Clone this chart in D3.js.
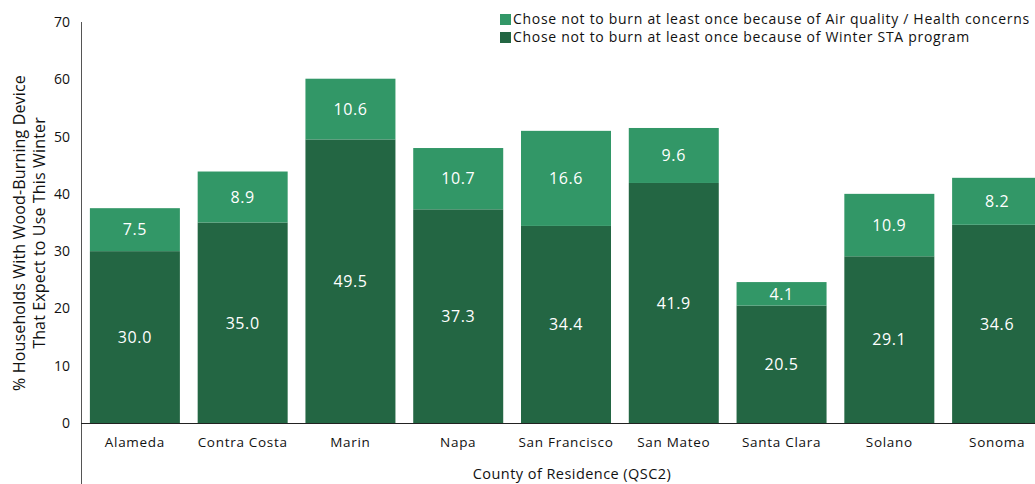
<!DOCTYPE html>
<html>
<head>
<meta charset="utf-8">
<script src="https://cdn.jsdelivr.net/npm/d3@7"></script>
<style>
  html, body { margin: 0; padding: 0; background: #fff; }
  svg { display: block; font-family: "Open Sans", "Noto Sans", sans-serif; }
</style>
</head>
<body>
<svg id="chart" width="1035" height="484"></svg>
<script>
// Counties on the x axis
const counties = ["Alameda", "Contra Costa", "Marin", "Napa", "San Francisco",
                  "San Mateo", "Santa Clara", "Solano", "Sonoma"];
// Bottom segment: chose not to burn because of Winter STA program
const staValues = [30.0, 35.0, 49.5, 37.3, 34.4, 41.9, 20.5, 29.1, 34.6];
// Top segment: chose not to burn because of air quality / health concerns
const airValues = [7.5, 8.9, 10.6, 10.7, 16.6, 9.6, 4.1, 10.9, 8.2];
const yTicks = [0, 10, 20, 30, 40, 50, 60, 70];
const seriesNames = [
  "Chose not to burn at least once because of Air quality / Health concerns",
  "Chose not to burn at least once because of Winter STA program"
];
const xTitle = "County of Residence (QSC2)";
const yTitle = ["% Households With Wood-Burning Device", "That Expect to Use This Winter"];

const colorAir = "#329767";
const colorSta = "#236643";

const svg = d3.select("#chart");
const plotLeft = 81, plotBottom = 423, plotTop = 22;

const x = d3.scaleBand().domain(counties).range([plotLeft, 1051])
  .paddingInner(0.165).paddingOuter(0.0825);
const y = d3.scaleLinear().domain([0, 70]).range([plotBottom, plotTop]);

const rows = counties.map((c, i) => ({ county: c, sta: staValues[i], air: airValues[i] }));
const stacked = d3.stack().keys(["sta", "air"])(rows);
const colors = { sta: colorSta, air: colorAir };

// Bars
stacked.forEach(layer => {
  const g = svg.append("g");
  g.selectAll("rect").data(layer).enter().append("rect")
    .attr("x", d => x(d.data.county))
    .attr("width", x.bandwidth())
    .attr("y", d => y(d[1]))
    .attr("height", d => y(d[0]) - y(d[1]))
    .attr("fill", colors[layer.key]);
  g.selectAll("text").data(layer).enter().append("text")
    .attr("x", d => x(d.data.county) + x.bandwidth() / 2)
    .attr("y", d => (y(d[0]) + y(d[1])) / 2)
    .attr("dy", "0.36em")
    .attr("text-anchor", "middle")
    .attr("fill", "#fff")
    .attr("font-size", 16)
    .attr("letter-spacing", 0.6)
    .text(d => d.data[layer.key].toFixed(1));
});

// Y axis
const yAxis = svg.append("g");
yAxis.append("line")
  .attr("x1", plotLeft + 0.5).attr("x2", plotLeft + 0.5)
  .attr("y1", plotTop).attr("y2", 484)
  .attr("stroke", "#555").attr("stroke-width", 1);
yAxis.selectAll("text.tick").data(yTicks).enter().append("text")
  .attr("class", "tick")
  .attr("x", 70)
  .attr("y", d => y(d))
  .attr("dy", "0.36em")
  .attr("text-anchor", "end")
  .attr("font-size", 14)
  .attr("fill", "#111")
  .text(d => d);

// Baseline
svg.append("line")
  .attr("x1", plotLeft).attr("x2", 1035)
  .attr("y1", plotBottom + 0.5).attr("y2", plotBottom + 0.5)
  .attr("stroke", "#222").attr("stroke-width", 1);

// Category labels
svg.append("g").selectAll("text").data(counties).enter().append("text")
  .attr("x", d => x(d) + x.bandwidth() / 2)
  .attr("y", 447)
  .attr("text-anchor", "middle")
  .attr("font-size", 13.5)
  .attr("letter-spacing", 0.7)
  .attr("fill", "#111")
  .text(d => d);

// Axis titles
svg.append("text")
  .attr("x", 572)
  .attr("y", 479)
  .attr("text-anchor", "middle")
  .attr("font-size", 14.5)
  .attr("letter-spacing", 0.45)
  .attr("fill", "#111")
  .text(xTitle);

const yt = svg.append("text")
  .attr("transform", "translate(25,233) rotate(-90)")
  .attr("text-anchor", "middle")
  .attr("font-size", 16)
  .attr("letter-spacing", 0.15)
  .attr("fill", "#111");
yTitle.forEach((t, i) => {
  yt.append("tspan").attr("x", 0).attr("dy", i === 0 ? 0 : 20).text(t);
});

// Legend
const legend = svg.append("g");
const legendColors = [colorAir, colorSta];
seriesNames.forEach((name, i) => {
  const ly = 19 + i * 18;
  legend.append("rect")
    .attr("x", 500).attr("y", ly - 5)
    .attr("width", 11).attr("height", 11)
    .attr("fill", legendColors[i]);
  legend.append("text")
    .attr("x", 513).attr("y", ly)
    .attr("dy", "0.36em")
    .attr("font-size", 14)
    .attr("letter-spacing", 0.7)
    .attr("fill", "#111")
    .text(name);
});
</script>
</body>
</html>
